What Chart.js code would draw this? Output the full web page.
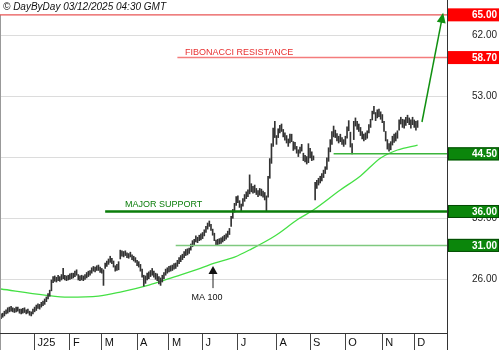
<!DOCTYPE html>
<html>
<head>
<meta charset="utf-8">
<script src="https://cdn.jsdelivr.net/npm/chart.js@4.4.1/dist/chart.umd.min.js"></script>
<style>
  html, body { margin: 0; padding: 0; background: #fff; }
  canvas { display: block; }
</style>
</head>
<body>
<canvas id="chart" width="500" height="350"></canvas>
<script>
// daily low / high, one value per trading day (starts mid Dec 2024)
const priceLow = [
  20.2,20.4,20.6,20.9,21.0,21.2,21.3,21.2,21.1,21.2,21.3,21.0,20.9,21.0,21.1,20.9,21.0,20.7,20.6,20.9,
  21.2,21.4,21.7,21.6,21.9,22.1,22.3,22.7,23.1,23.5,24.3,25.5,25.7,25.6,25.8,25.7,25.9,26.1,25.9,25.8,25.9,26.0,
  26.1,26.2,26.4,26.6,25.9,25.8,25.9,25.8,26.0,26.2,26.4,26.6,26.9,27.2,27.1,27.3,27.3,27.0,26.9,25.1,
  27.6,27.9,28.2,28.5,28.3,27.8,27.2,27.3,27.4,29.0,29.4,29.3,29.5,29.2,29.1,29.3,28.9,28.7,28.5,28.0,
  27.8,27.2,26.3,25.0,25.4,25.9,26.1,26.4,26.6,26.3,26.0,25.8,25.3,25.1,25.6,26.1,26.6,26.9,27.1,
  27.2,27.3,27.5,27.6,27.9,28.3,28.6,28.9,29.2,29.5,29.6,29.8,30.3,30.8,31.0,31.5,31.4,31.7,31.8,
  32.0,32.4,32.9,33.4,33.8,33.2,32.5,31.7,31.0,31.1,31.2,31.3,31.5,31.7,31.9,32.2,32.6,33.8,35.0,35.9,36.9,
  37.3,36.6,36.1,36.8,37.5,37.9,38.2,38.6,38.9,38.7,38.8,38.5,38.2,38.4,38.3,38.1,37.7,36.0,38.1,40.9,43.1,45.6,46.9,
  45.9,46.9,47.6,47.8,47.0,46.5,46.1,45.6,46.1,46.3,45.0,45.2,44.6,44.1,44.6,44.9,43.5,43.3,43.0,43.2,43.9,43.5,43.6,
  37.7,39.4,39.9,40.2,40.5,41.0,41.6,42.2,43.4,44.8,45.9,47.0,46.9,46.4,46.1,46.3,45.9,45.6,
  45.9,46.8,47.9,45.5,44.5,46.6,48.6,48.1,47.8,47.2,46.7,46.4,46.6,46.8,47.6,48.4,49.5,50.4,49.4,49.8,50.0,49.6,
  49.1,47.8,46.4,45.2,44.9,45.1,45.8,46.2,46.4,46.8,48.0,48.9,48.4,48.3,48.7,49.1,48.8,48.3,48.8,48.4,48.0,48.4
];
const priceHigh = [
  20.9,21.0,21.3,21.5,21.8,21.9,22.0,21.8,21.7,21.9,21.9,21.6,21.6,21.7,21.8,21.5,21.6,21.3,21.2,21.6,
  21.9,22.2,22.4,22.3,22.6,22.8,23.1,23.4,23.9,24.4,25.9,26.4,26.5,26.3,26.6,26.4,26.7,27.6,26.6,26.5,26.6,26.8,
  26.9,26.9,27.2,27.4,26.7,26.5,26.6,26.5,26.7,27.0,27.2,27.3,27.7,27.9,27.8,28.0,28.1,27.8,27.6,27.4,
  28.4,28.7,29.0,29.4,29.1,28.7,28.0,28.2,28.6,30.3,30.2,30.1,30.2,29.9,29.8,30.0,29.6,29.4,29.2,28.8,
  28.6,28.2,27.5,26.6,26.5,26.9,27.1,27.3,27.6,27.2,26.9,26.8,26.4,26.2,26.6,27.0,27.5,27.7,27.9,
  28.0,28.1,28.3,28.4,28.8,29.2,29.5,29.7,30.1,30.4,30.5,30.6,31.2,31.7,31.9,32.4,32.2,32.5,32.7,
  32.9,33.3,33.8,34.3,34.6,34.1,33.4,32.8,31.8,31.9,32.0,32.1,32.3,32.5,32.7,33.1,33.5,35.3,36.3,37.2,38.2,
  38.3,37.6,37.1,37.9,38.5,38.9,39.2,41.4,40.1,39.7,39.9,39.4,39.1,39.4,39.3,39.0,38.8,38.3,41.2,43.8,46.0,48.3,49.3,
  47.2,48.2,48.7,48.9,48.1,47.6,47.2,46.7,47.4,47.4,46.3,46.2,45.6,45.1,45.5,45.9,44.6,44.3,44.1,46.0,45.3,44.8,44.2,
  40.3,40.6,40.9,41.2,41.6,42.1,42.6,43.9,45.4,46.6,47.8,48.6,48.0,47.5,47.1,47.4,46.9,46.6,
  47.1,48.5,49.4,47.7,46.0,49.3,49.8,49.3,48.9,48.4,47.8,47.4,47.6,47.9,48.8,49.6,50.8,51.5,50.6,51.0,51.1,50.7,
  50.3,49.3,47.8,46.6,46.0,46.3,47.1,47.4,47.6,47.9,49.5,49.9,49.6,49.5,49.9,50.2,49.8,49.5,49.9,49.5,49.3,49.4
];

const maIndex = [0, 26, 40, 58, 71, 88, 101, 119, 127, 139, 149, 163, 177, 185, 202, 214, 226, 236, 248];
const maValue = [24.57, 23.68, 23.38, 23.53, 24.12, 25.15, 26.18, 27.65, 28.39, 29.27, 30.46, 32.38, 34.89, 36.07, 39.17, 41.24, 43.9, 45.07, 45.8];

const monthIndex = [20, 41, 60, 81, 100, 120, 141, 164, 184, 205, 227, 246];
const monthLabels = ['J25', 'F', 'M', 'A', 'M', 'J', 'J', 'A', 'S', 'O', 'N', 'D'];
const yTicks = [26, 35, 44, 53, 62];

// resistance / support levels and the bar where each line starts
const levelValues = [65, 58.7, 44.5, 36, 31];
const levelStart = [null, 105, 198, 62, 104];

const FONT = 'Arial, "Liberation Sans", sans-serif';

function arrowHead(c, x1, y1, x2, y2, len, half) {
  const ang = Math.atan2(y2 - y1, x2 - x1);
  c.beginPath();
  c.moveTo(x2, y2);
  c.lineTo(x2 - len * Math.cos(ang) + half * Math.sin(ang), y2 - len * Math.sin(ang) - half * Math.cos(ang));
  c.lineTo(x2 - len * Math.cos(ang) - half * Math.sin(ang), y2 - len * Math.sin(ang) + half * Math.cos(ang));
  c.closePath();
  c.fill();
}

const overlay = {
  id: 'overlay',
  beforeDraw(chart) {
    const c = chart.ctx;
    c.save();
    c.fillStyle = '#fff';
    c.fillRect(0, 0, chart.width, chart.height);
    c.restore();
  },
  afterDraw(chart) {
    const c = chart.ctx, xs = chart.scales.x, ys = chart.scales.y, a = chart.chartArea;
    c.save();

    // frame
    c.strokeStyle = '#999';
    c.lineWidth = 1;
    c.beginPath(); c.moveTo(0.5, ys.getPixelForValue(65)); c.lineTo(0.5, chart.height); c.stroke();
    c.strokeStyle = '#333';
    c.beginPath(); c.moveTo(a.left, a.bottom + 0.5); c.lineTo(a.right, a.bottom + 0.5); c.stroke();
    c.beginPath(); c.moveTo(a.right + 0.5, 0); c.lineTo(a.right + 0.5, chart.height); c.stroke();

    // level lines
    const lineColors = ['#e85454', '#f47c7c', '#3cb43c', '#0a7d0a', '#7fc97f'];
    const lineWidths = [1.2, 1.5, 1.5, 2.5, 1.5];
    levelValues.forEach((v, k) => {
      const y = ys.getPixelForValue(v);
      const x0 = levelStart[k] === null ? a.left : xs.getPixelForValue(levelStart[k]);
      c.strokeStyle = lineColors[k];
      c.lineWidth = lineWidths[k];
      c.beginPath(); c.moveTo(x0, y); c.lineTo(a.right, y); c.stroke();
    });

    // level labels on the price axis
    const boxColors = ['#ff0000', '#ff0000', '#0b860b', '#0b860b', '#0b860b'];
    c.font = 'bold 10px ' + FONT;
    c.textAlign = 'right';
    c.textBaseline = 'middle';
    levelValues.forEach((v, k) => {
      const y = ys.getPixelForValue(v);
      c.fillStyle = boxColors[k];
      c.fillRect(a.right + 1, y - 6.5, 51, 13);
      if (k > 1) {
        c.strokeStyle = '#044a04';
        c.lineWidth = 1;
        c.strokeRect(a.right + 1.5, y - 6, 50, 12);
      }
      c.fillStyle = '#fff';
      c.fillText(v.toFixed(2), 497, y + 0.5);
    });

    // header
    c.fillStyle = '#111';
    c.textAlign = 'left';
    c.font = 'italic 10px ' + FONT;
    c.fillText('\u00A9 DayByDay 03/12/2025 04:30 GMT', 3, 7);

    // texts
    c.font = '9px ' + FONT;
    c.fillStyle = '#e83030';
    c.fillText('FIBONACCI RESISTANCE', xs.getPixelForValue(109.5), ys.getPixelForValue(59.5));
    c.fillStyle = '#0a7d0a';
    c.fillText('MAJOR SUPPORT', xs.getPixelForValue(73.8), ys.getPixelForValue(37.1));
    c.fillStyle = '#111';
    c.textAlign = 'center';
    c.fillText('MA 100', xs.getPixelForValue(122.6), ys.getPixelForValue(23.3));

    // MA arrow
    const mx = xs.getPixelForValue(126.2);
    const my1 = ys.getPixelForValue(24.7), my2 = ys.getPixelForValue(27.95);
    c.strokeStyle = '#222';
    c.fillStyle = '#111';
    c.lineWidth = 1;
    c.beginPath(); c.moveTo(mx, my1); c.lineTo(mx, my2 + 4); c.stroke();
    arrowHead(c, mx, my1, mx, my2, 8, 4.5);

    // target arrow
    const gx1 = xs.getPixelForValue(250.6), gy1 = ys.getPixelForValue(49.2);
    const gx2 = xs.getPixelForValue(263.2), gy2 = ys.getPixelForValue(65.3);
    c.strokeStyle = '#119011';
    c.fillStyle = '#119011';
    c.lineWidth = 1.5;
    c.beginPath(); c.moveTo(gx1, gy1); c.lineTo(gx1 + (gx2 - gx1) * 0.93, gy1 + (gy2 - gy1) * 0.93); c.stroke();
    arrowHead(c, gx1, gy1, gx2, gy2, 10, 4.5);

    c.restore();
  }
};

new Chart(document.getElementById('chart'), {
  type: 'bar',
  data: {
    datasets: [
      {
        type: 'line',
        data: maIndex.map((x, i) => ({ x: x, y: maValue[i] })),
        borderColor: '#44e044',
        borderWidth: 1.3,
        pointRadius: 0,
        cubicInterpolationMode: 'monotone',
        order: 2
      },
      {
        type: 'bar',
        data: priceLow.map((lo, i) => ({ x: i, y: [lo, priceHigh[i]] })),
        backgroundColor: '#333',
        borderWidth: 0,
        barThickness: 1,
        grouped: false,
        order: 1
      }
    ]
  },
  options: {
    responsive: false,
    animation: false,
    devicePixelRatio: 1,
    layout: { padding: { left: 0, right: 3, top: 0, bottom: 0 } },
    plugins: { legend: { display: false }, tooltip: { enabled: false } },
    scales: {
      x: {
        type: 'linear',
        min: -0.6,
        max: 265.5,
        offset: false,
        afterBuildTicks: s => { s.ticks = monthIndex.map(v => ({ value: v })); },
        afterFit: s => { s.height = 17; s.paddingLeft = 0; s.paddingRight = 0; },
        ticks: {
          autoSkip: false,
          maxRotation: 0,
          align: 'start',
          labelOffset: 3,
          padding: -14,
          color: '#111',
          font: { family: FONT, size: 11 },
          callback: (v, i) => monthLabels[i]
        },
        grid: { drawOnChartArea: false, drawTicks: true, tickLength: 17, color: '#444', offset: false },
        border: { display: false }
      },
      y: {
        position: 'right',
        min: 18.08,
        max: 67.19,
        afterBuildTicks: s => { s.ticks = yTicks.map(v => ({ value: v })); },
        afterFit: s => { s.width = 50; s.paddingTop = 0; s.paddingBottom = 0; },
        ticks: {
          crossAlign: 'far',
          padding: 0,
          color: '#222',
          font: { family: FONT, size: 10 },
          callback: v => v.toFixed(2)
        },
        grid: { color: '#dcdcdc', drawTicks: false },
        border: { display: false }
      }
    }
  },
  plugins: [overlay]
});
</script>
</body>
</html>
